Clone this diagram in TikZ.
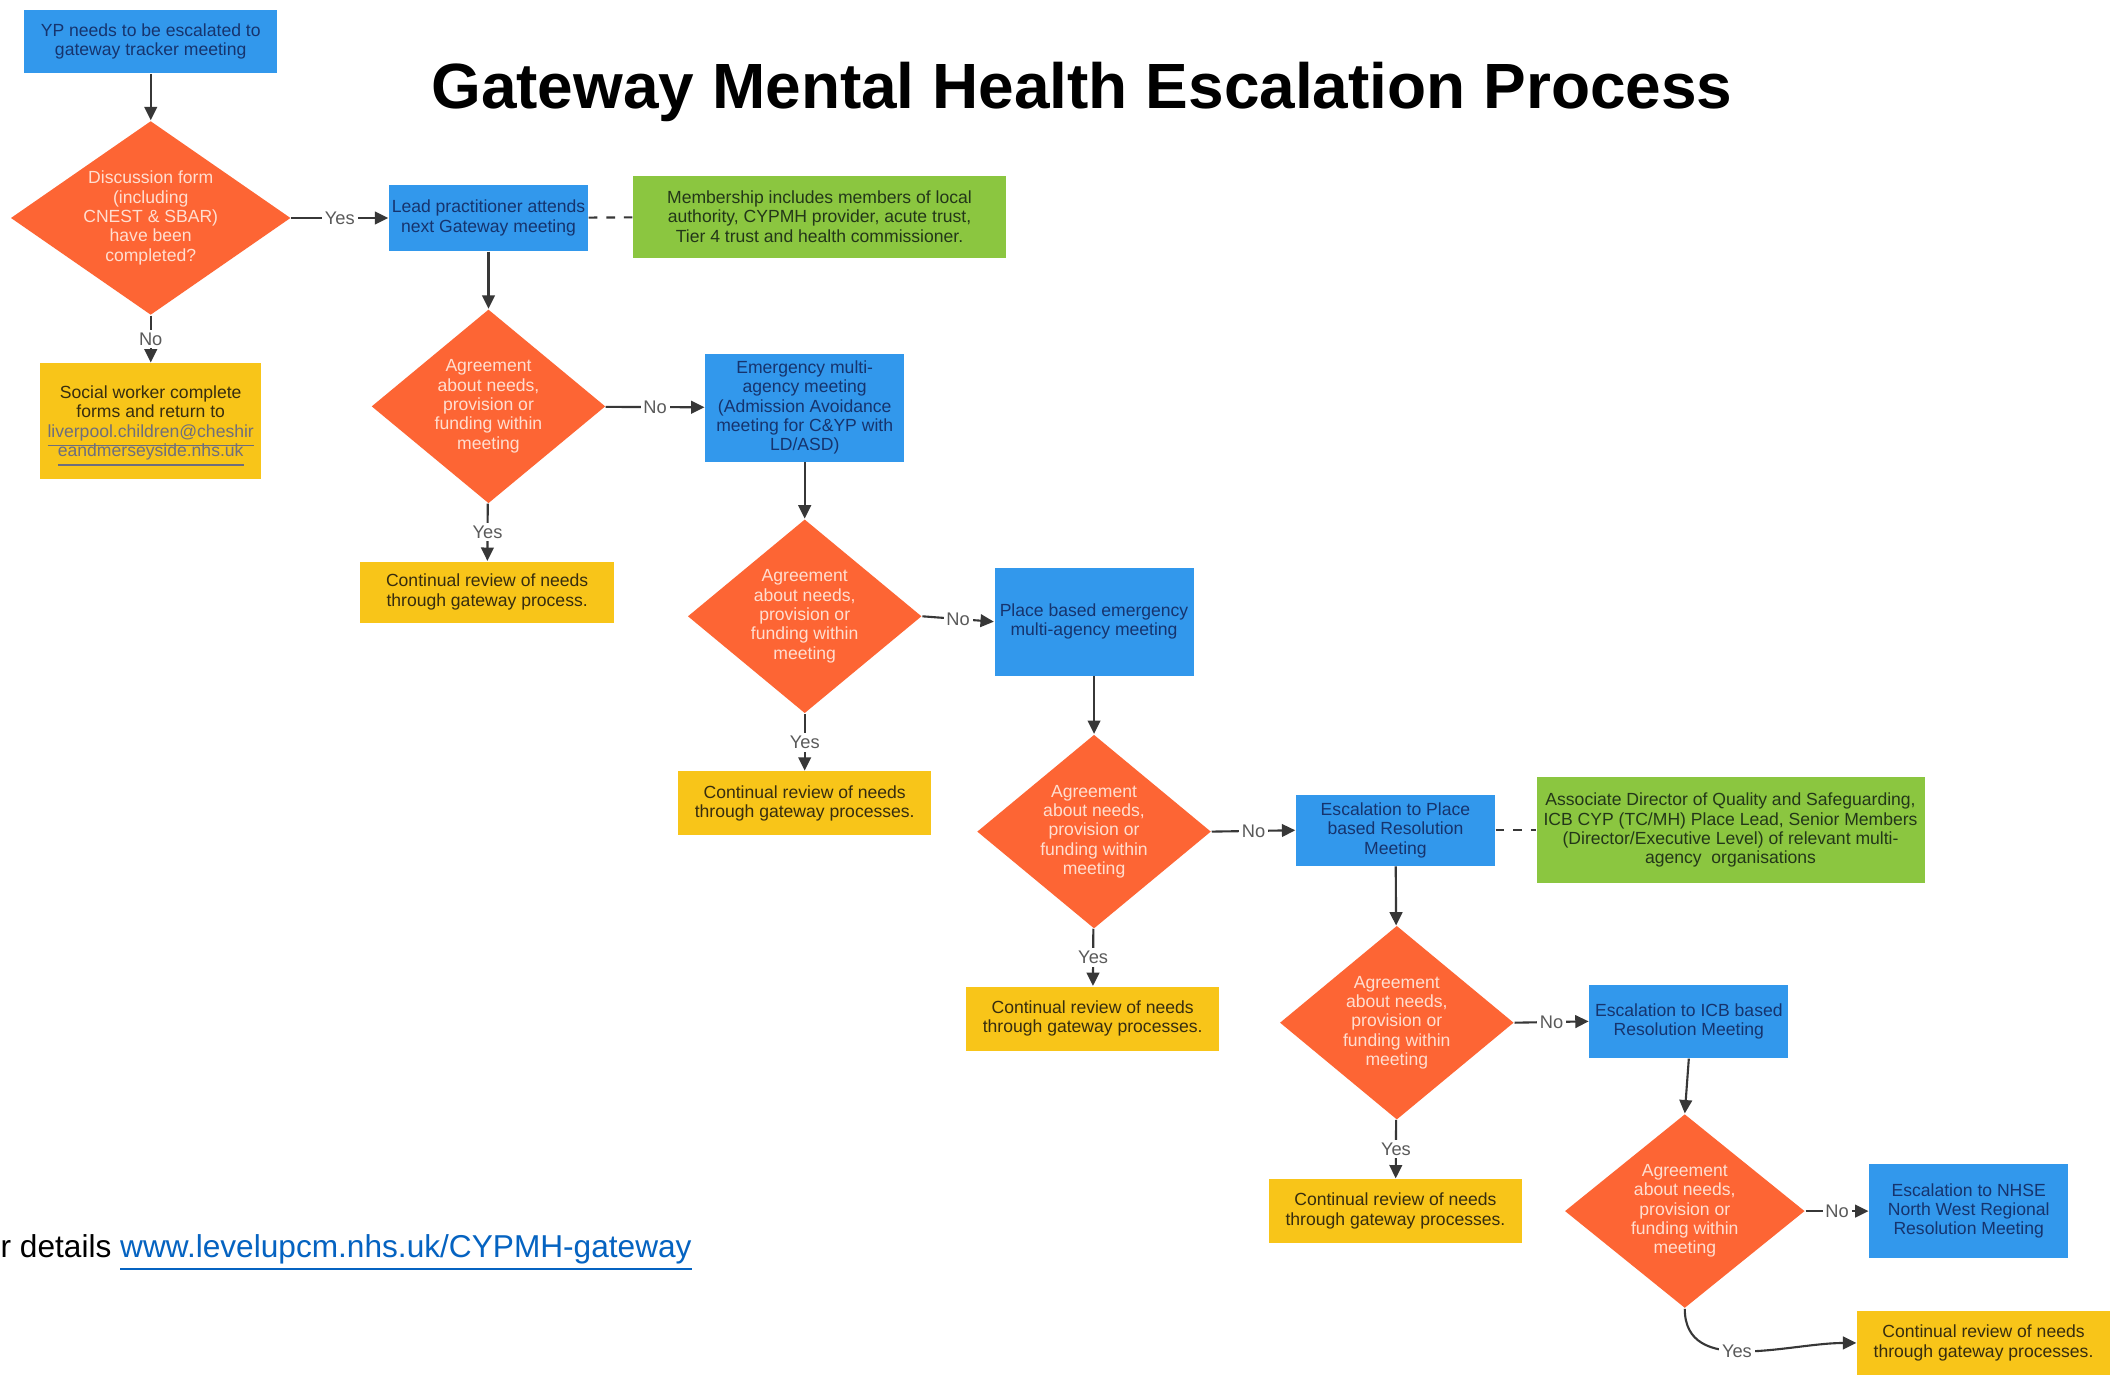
\documentclass[tikz,border=0pt]{standalone}
\usepackage{fontspec}
\setmainfont{Liberation Sans}
\usetikzlibrary{shapes.geometric, arrows.meta}

\definecolor{boxblue}{RGB}{50,152,236}
\definecolor{bluetext}{RGB}{22,52,110}
\definecolor{decorange}{RGB}{253,101,52}
\definecolor{dectext}{RGB}{255,222,208}
\definecolor{notegreen}{RGB}{139,198,64}
\definecolor{greentext}{RGB}{35,55,25}
\definecolor{reviewyellow}{RGB}{248,197,25}
\definecolor{yellowtext}{RGB}{55,45,15}
\definecolor{lineGray}{RGB}{55,55,55}
\definecolor{lblGray}{RGB}{90,90,90}
\definecolor{mailGray}{RGB}{110,110,125}
\definecolor{linkblue}{RGB}{5,99,193}

\begin{document}
\begin{tikzpicture}[x=0.13457mm, y=-0.13457mm,
  txt/.style={font=\fontsize{5}{5.5}\selectfont, align=center, inner sep=0pt},
  stepbox/.style={txt, rectangle, fill=boxblue, text=bluetext, minimum width=1.99cm},
  notebox/.style={txt, rectangle, fill=notegreen, text=greentext},
  reviewbox/.style={txt, rectangle, fill=reviewyellow, text=yellowtext, minimum width=2.53cm, minimum height=0.64cm},
  decision/.style={txt, diamond, aspect=1.2, fill=decorange, text=dectext, minimum width=2.34cm, minimum height=1.94cm},
  conn/.style={draw=lineGray, line width=0.6pt, -{Triangle[length=3.8pt, width=3.6pt]}},
  dashlink/.style={draw=lineGray, line width=0.6pt, dashed, dash pattern=on 2.5pt off 2.5pt},
  lbl/.style={fill=white, text=lblGray, font=\fontsize{5.2}{6}\selectfont, inner sep=0.8pt}]

% Page frame
\useasboundingbox (0,0) rectangle (1568,1022);
\clip (0,0) rectangle (1568,1022);
\fill[white] (0,0) rectangle (1568,1022);

% Title
\node[font=\bfseries\fontsize{18.2}{22}\selectfont] (title) at (804,68) {Gateway Mental Health Escalation Process};

% Start and first decision
\node[stepbox, minimum width=2.53cm, minimum height=0.63cm] (start) at (112,31) {YP needs to be escalated to\\gateway tracker meeting};
\node[decision, aspect=1.44, minimum width=2.80cm] (formDone) at (112,162) {Discussion form\\(including\\CNEST \& SBAR)\\have been\\completed?};
\node[reviewbox, minimum width=2.21cm, minimum height=1.16cm] (socialWorker) at (112,313) {Social worker complete\\forms and return to\\\textcolor{mailGray}{\smash{\underline{liverpool.children@cheshir}}}\\\textcolor{mailGray}{\smash{\underline{eandmerseyside.nhs.uk}}}};

% Gateway meeting
\node[stepbox, minimum height=0.66cm] (leadPract) at (363,162) {Lead practitioner attends\\next Gateway meeting};
\node[notebox, minimum width=3.73cm, minimum height=0.82cm] (membership) at (609,161) {Membership includes members of local\\authority, CYPMH provider, acute trust,\\Tier 4 trust and health commissioner.};
\node[decision] (agreeOne) at (363,302) {Agreement\\about needs,\\provision or\\funding within\\meeting};
\node[reviewbox, minimum width=2.54cm, minimum height=0.61cm] (reviewOne) at (362,440) {Continual review of needs\\through gateway process.};

% Emergency multi-agency meeting
\node[stepbox, minimum height=1.08cm] (emergency) at (598,303) {Emergency multi-\\agency meeting\\(Admission Avoidance\\meeting for C\&YP with\\LD/ASD)};
\node[decision] (agreeTwo) at (598,458) {Agreement\\about needs,\\provision or\\funding within\\meeting};
\node[reviewbox] (reviewTwo) at (598,597) {Continual review of needs\\through gateway processes.};

% Place based emergency meeting
\node[stepbox, minimum height=1.08cm] (placeEmerg) at (813,462) {Place based emergency\\multi-agency meeting};
\node[decision] (agreeThree) at (813,618) {Agreement\\about needs,\\provision or\\funding within\\meeting};
\node[reviewbox] (reviewThree) at (812,757) {Continual review of needs\\through gateway processes.};

% Place based resolution meeting
\node[stepbox, minimum height=0.71cm] (placeRes) at (1037,617) {Escalation to Place\\based Resolution\\Meeting};
\node[notebox, minimum width=3.88cm, minimum height=1.06cm] (directors) at (1286,617) {Associate Director of Quality and Safeguarding,\\ICB CYP (TC/MH) Place Lead, Senior Members\\(Director/Executive Level) of relevant multi-\\agency\ \ organisations};
\node[decision] (agreeFour) at (1038,760) {Agreement\\about needs,\\provision or\\funding within\\meeting};
\node[reviewbox] (reviewFour) at (1037,900) {Continual review of needs\\through gateway processes.};

% ICB resolution meeting
\node[stepbox, minimum height=0.73cm] (icbRes) at (1255,759) {Escalation to ICB based\\Resolution Meeting};
\node[decision, minimum width=2.40cm] (agreeFive) at (1252,900) {Agreement\\about needs,\\provision or\\funding within\\meeting};
\node[stepbox, minimum height=0.94cm] (nhseRes) at (1463,900) {Escalation to NHSE\\North West Regional\\Resolution Meeting};
\node[reviewbox] (reviewFive) at (1474,998) {Continual review of needs\\through gateway processes.};

% Footer
\node[anchor=west, inner sep=0pt, font=\fontsize{9}{11}\selectfont] (footer) at (0,931) {r details \textcolor{linkblue}{\underline{www.levelupcm.nhs.uk/CYPMH-gateway}}};

% Connectors
\draw[conn] (start) -- (formDone);
\draw[conn] (formDone) -- node[lbl] {Yes} (leadPract);
\draw[conn] (formDone) -- node[lbl] {No} (socialWorker);
\draw[dashlink] (leadPract) -- (membership);
\draw[conn] (leadPract) -- (agreeOne);
\draw[conn] (agreeOne) -- node[lbl] {No} (emergency);
\draw[conn] (agreeOne) -- node[lbl] {Yes} (reviewOne);
\draw[conn] (emergency) -- (agreeTwo);
\draw[conn] (agreeTwo.east) -- node[lbl] {No} (placeEmerg.west);
\draw[conn] (agreeTwo) -- node[lbl] {Yes} (reviewTwo);
\draw[conn] (placeEmerg) -- (agreeThree);
\draw[conn] (agreeThree.east) -- node[lbl] {No} (placeRes.west);
\draw[conn] (agreeThree) -- node[lbl] {Yes} (reviewThree);
\draw[dashlink] (placeRes) -- (directors);
\draw[conn] (placeRes) -- (agreeFour);
\draw[conn] (agreeFour.east) -- node[lbl] {No} (icbRes.west);
\draw[conn] (agreeFour) -- node[lbl] {Yes} (reviewFour);
\draw[conn] (icbRes.south) -- (agreeFive.north);
\draw[conn] (agreeFive.east) -- node[lbl] {No} (nhseRes.west);
\draw[conn] (agreeFive.south) to[out=-90, in=180] node[lbl, pos=0.46] {Yes} (reviewFive.west);

\end{tikzpicture}
\end{document}
